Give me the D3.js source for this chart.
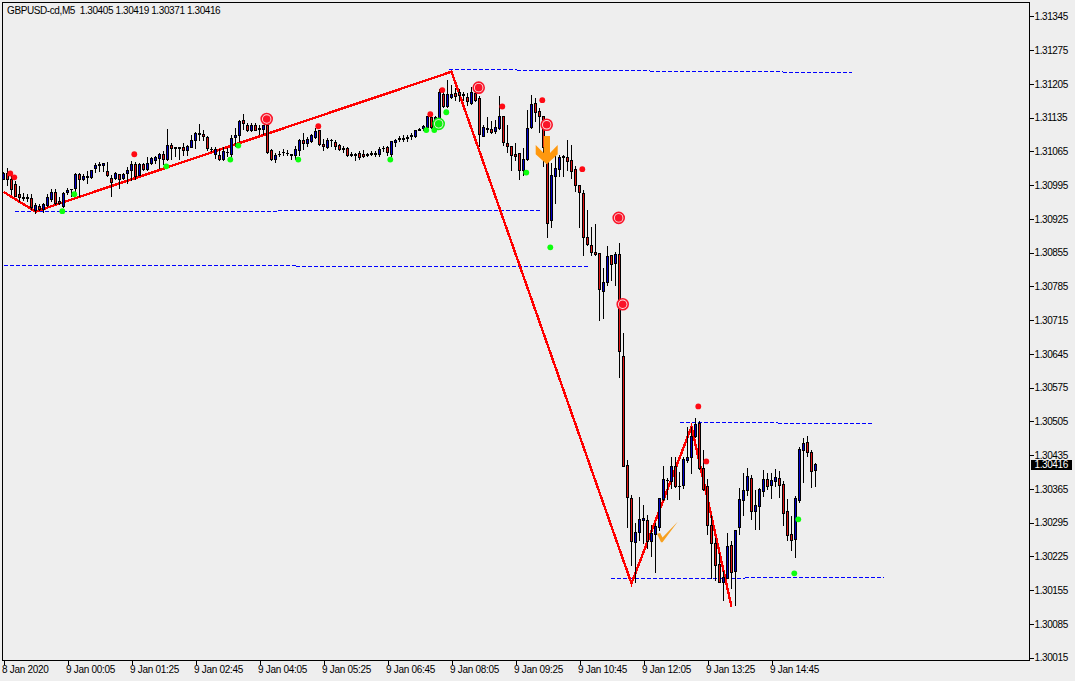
<!DOCTYPE html>
<html><head><meta charset="utf-8">
<script src="https://cdn.jsdelivr.net/npm/d3@7"></script>
<style>
html,body{margin:0;padding:0;background:#eeeeee;overflow:hidden}
svg{display:block}
text{font-family:"Liberation Sans",Arial,sans-serif;font-size:10px;fill:#000}
</style></head><body>
<svg id="c" width="1075" height="681"></svg>
<script>
// Prices are in points above 1.30000 (1 point = 0.00001)
const opens=[
1008,1020,1008,998,977,971,970,969,944,951,
945,953,966,981,962,951,980,986,989,1018,
1007,1012,1011,1030,1037,1036,1025,1010,1009,1017,
1010,1021,1027,1039,1016,1038,1029,1040,1047,1052,
1060,1049,1078,1072,1072,1074,1067,1074,1089,1101,
1101,1095,1070,1060,1058,1049,1063,1059,1094,1098,
1130,1120,1109,1120,1113,1111,1120,1067,1049,1059,
1063,1062,1059,1058,1068,1089,1082,1087,1095,1110,
1081,1074,1089,1085,1078,1069,1072,1060,1059,1062,
1060,1058,1060,1060,1060,1071,1074,1060,1084,1091,
1091,1092,1097,1096,1110,1113,1115,1136,1114,1131,
1183,1158,1178,1186,1188,1181,1178,1165,1185,1175,
1097,1112,1112,1107,1113,1139,1082,1076,1059,1061,
1027,1050,1116,1165,1148,1139,1075,922,1014,1028,
1053,1053,1047,1029,995,978,888,871,857,854,
776,794,850,833,852,640,414,346,255,275,
300,300,256,271,287,344,383,382,413,372,
374,425,432,474,501,408,371,290,252,209,
173,180,249,194,287,341,363,388,320,329,
360,386,374,382,388,375,319,271,262,343,
445,462,442,405];
const highs=[
1022,1031,1014,1003,994,978,976,976,957,955,
958,976,986,987,971,980,989,987,1020,1020,
1017,1024,1027,1041,1042,1041,1042,1015,1022,1019,
1020,1033,1045,1042,1040,1041,1053,1053,1055,1062,
1065,1111,1082,1074,1074,1082,1079,1098,1105,1122,
1110,1096,1074,1074,1069,1074,1072,1099,1114,1131,
1143,1123,1123,1124,1120,1120,1134,1070,1062,1065,
1069,1067,1060,1077,1091,1103,1095,1100,1114,1110,
1091,1092,1091,1089,1081,1077,1074,1063,1062,1065,
1067,1062,1066,1066,1074,1077,1077,1087,1091,1096,
1098,1098,1102,1110,1113,1120,1139,1146,1139,1194,
1193,1212,1203,1196,1194,1189,1186,1198,1189,1180,
1120,1137,1127,1129,1180,1139,1120,1076,1082,1061,
1072,1151,1182,1175,1155,1139,1085,1041,1065,1058,
1058,1089,1079,1034,995,985,944,909,915,854,
823,868,850,857,875,688,425,353,294,349,
332,311,291,295,346,413,387,431,432,401,
432,494,494,512,505,446,385,311,263,232,
194,273,256,280,366,398,408,394,362,366,
404,398,398,406,402,382,344,309,351,451,
471,475,446,419];
const lows=[
1007,996,976,972,962,965,962,945,938,943,
939,951,962,955,955,950,976,972,976,972,
1005,1000,1010,1023,1024,1024,1013,973,1008,988,
1007,1000,1005,1007,1015,1027,1027,1038,1041,1031,
1038,1048,1049,1055,1050,1058,1058,1074,1072,1088,
1089,1067,1065,1051,1047,1048,1055,1051,1076,1086,
1111,1107,1107,1109,1100,1100,1062,1047,1042,1056,
1058,1058,1049,1049,1058,1069,1077,1085,1093,1078,
1067,1072,1077,1069,1067,1063,1056,1056,1047,1050,
1053,1056,1058,1055,1056,1065,1058,1055,1076,1087,
1087,1087,1091,1095,1109,1110,1110,1114,1109,1127,
1157,1157,1176,1171,1169,1172,1162,1164,1170,1076,
1096,1106,1103,1103,1111,1079,1063,1027,1047,1008,
1016,1047,1113,1127,1106,1034,888,909,958,1013,
1014,1027,1009,982,909,850,871,850,850,716,
720,788,799,788,597,413,287,208,173,259,
253,242,225,192,279,342,344,367,369,344,
367,420,398,472,406,363,272,180,176,171,
134,180,159,125,272,311,353,303,282,282,
351,364,346,371,349,290,259,239,223,337,
380,434,369,371];
const closes=[
1020,1008,986,973,970,969,969,949,954,946,
956,970,981,958,958,979,984,987,1017,1008,
1014,1013,1027,1037,1039,1041,1015,1001,1021,1008,
1018,1027,1039,1014,1038,1029,1041,1051,1053,1060,
1049,1078,1072,1073,1073,1067,1076,1089,1103,1102,
1096,1071,1069,1069,1049,1065,1064,1092,1099,1128,
1123,1109,1120,1110,1112,1119,1063,1049,1058,1060,
1064,1062,1058,1069,1089,1082,1091,1098,1108,1080,
1076,1089,1088,1077,1070,1072,1058,1058,1058,1053,
1055,1059,1062,1062,1069,1072,1063,1086,1089,1092,
1093,1094,1099,1109,1111,1118,1138,1116,1136,1189,
1158,1183,1184,1180,1181,1183,1169,1187,1172,1100,
1115,1113,1105,1116,1139,1085,1077,1058,1056,1027,
1050,1113,1164,1147,1139,1075,917,1016,1030,1053,
1055,1045,1025,996,980,888,873,857,853,779,
794,847,831,852,650,413,348,258,275,302,
304,258,273,288,346,385,384,413,370,371,
427,431,475,500,408,364,291,252,208,173,
183,247,192,280,344,363,392,320,331,365,
386,372,384,389,374,316,270,260,346,448,
460,442,403,416];

const priceLabels=["1.31345","1.31275","1.31205","1.31135","1.31065","1.30995","1.30925","1.30855","1.30785","1.30715","1.30645","1.30575","1.30505","1.30435","1.30365","1.30295","1.30225","1.30155","1.30085","1.30015"];
const timeLabels=["8 Jan 2020","9 Jan 00:05","9 Jan 01:25","9 Jan 02:45","9 Jan 04:05","9 Jan 05:25","9 Jan 06:45","9 Jan 08:05","9 Jan 09:25","9 Jan 10:45","9 Jan 12:05","9 Jan 13:25","9 Jan 14:45"];
const titleText="GBPUSD-cd,M5";

const zigzagBars=[0,8,112,157,172,182];
const zigzagPrices=[981,940,1230,169,494,121];

// each level: [bar, price] vertices
const levelLines=[
 [[2.9,941],[68.6,941]],[[68.6,943],[134.1,943]],
 [[0,829],[73,829]],[[73,827],[146.1,827]],
 [[111.4,1236],[128.4,1236]],[[128.4,1234],[161.6,1234]],[[161.6,1232],[194.9,1232]],[[194.9,1229],[212.1,1229]],
 [[169.1,504],[193.6,504]],[[193.6,502],[217.6,502]],
 [[151.9,180],[185.4,180]],[[185.4,182],[220.1,182]]
];

const redDotBars=[2,3,33,79,107,110,125,135,145,174,176];
const redDotPrices=[1019,1011,1059,1117,1142,1192,1158,1171,1028,536,422];
const greenDotBars=[15,18,41,57,59,74,97,106,108,111,131,137,199,198];
const greenDotPrices=[941,976,1034,1048,1077,1048,1048,1109,1109,1146,1021,866,302,190];
const redTargetBars=[66,119,136,154,155];
const redTargetPrices=[1132,1197,1120,927,748];
const greenTargetBars=[109];
const greenTargetPrices=[1122];
const arrowBar=136, arrowPrice=1038;
const checkBar=164, checkPrice=255;

const svg=d3.select("#c");
const x=d3.scaleLinear().domain([0,1]).range([3.5,7.5]);
const y=d3.scaleLinear().domain([1345,15]).range([16.3,657.7]);
const toPts=s=>Math.round((parseFloat(s)-1.3)*1e5);
const fmt=v=>(1.3+v/1e5).toFixed(5);
const py=v=>Math.round(y(v));

// frame
svg.append("rect").attr("x",2.5).attr("y",2.5).attr("width",1027).attr("height",658)
  .attr("fill","#eeeeee").attr("stroke","#000").attr("stroke-width",1).attr("shape-rendering","crispEdges");

// level lines
const ln=d3.line().x(d=>x(d[0])).y(d=>py(d[1])+0.5);
svg.append("g").selectAll("path").data(levelLines).join("path")
  .attr("d",ln).attr("fill","none").attr("stroke","#0000ff").attr("stroke-width",1)
  .attr("stroke-dasharray","4 2").attr("shape-rendering","crispEdges");

// zigzag
const zz=d3.line().x(d=>x(d[0])).y(d=>y(d[1]));
svg.append("path").attr("d",zz(d3.zip(zigzagBars,zigzagPrices)))
  .attr("fill","none").attr("stroke","#ff0000").attr("stroke-width",2.4).attr("stroke-linejoin","miter")
  .attr("shape-rendering","crispEdges");

// candles
const bars=d3.range(opens.length);
const g=svg.append("g").attr("shape-rendering","crispEdges");
g.selectAll("line.w").data(bars).join("line").attr("class","w")
  .attr("x1",i=>x(i)).attr("x2",i=>x(i))
  .attr("y1",i=>py(highs[i])).attr("y2",i=>py(lows[i])+1)
  .attr("stroke","#000").attr("stroke-width",1);
const bodyTop=i=>py(Math.max(opens[i],closes[i]));
const bodyBot=i=>py(Math.min(opens[i],closes[i]));
g.selectAll("rect.b").data(bars).join("rect").attr("class","b")
  .attr("x",i=>x(i)-1.5).attr("width",3)
  .attr("y",bodyTop).attr("height",i=>Math.max(1,bodyBot(i)-bodyTop(i)+1)).attr("fill","#000");
g.selectAll("rect.f").data(bars.filter(i=>bodyBot(i)-bodyTop(i)>=2)).join("rect").attr("class","f")
  .attr("x",i=>x(i)-0.5).attr("width",1)
  .attr("y",i=>bodyTop(i)+1).attr("height",i=>bodyBot(i)-bodyTop(i)-1)
  .attr("fill",i=>closes[i]>=opens[i]?"#0000c8":"#e01414");

// dots
const dotX=i=>x(i)-1.2;
svg.append("g").selectAll("circle").data(d3.zip(redDotBars,redDotPrices)).join("circle")
  .attr("cx",d=>dotX(d[0])).attr("cy",d=>y(d[1])).attr("r",2.9).attr("fill","#ff0a14");
svg.append("g").selectAll("circle").data(d3.zip(greenDotBars,greenDotPrices)).join("circle")
  .attr("cx",d=>dotX(d[0])).attr("cy",d=>y(d[1])).attr("r",2.9).attr("fill","#0cff0c");

// targets
function targets(bs,ps,col){
  const data=d3.zip(bs,ps), t=svg.append("g");
  t.selectAll("circle.o").data(data).join("circle").attr("class","o")
    .attr("cx",d=>x(d[0])-0.8).attr("cy",d=>y(d[1])).attr("r",5.5)
    .attr("fill","#fbe8ea").attr("stroke",col).attr("stroke-width",1.6);
  t.selectAll("circle.i").data(data).join("circle").attr("class","i")
    .attr("cx",d=>x(d[0])-0.8).attr("cy",d=>y(d[1])).attr("r",3.8).attr("fill",col);
}
targets(redTargetBars,redTargetPrices,"#fa1428");
targets(greenTargetBars,greenTargetPrices,"#10f010");

// orange arrow
svg.append("path")
  .attr("transform",`translate(${x(arrowBar)-0.8},${y(arrowPrice)})`)
  .attr("d","M-3,-28.3 L3.3,-28.3 L3.3,-11.3 L11,-19.3 L11,-10 L0,0 L-11,-10 L-11,-19.3 L-3,-11.3 Z")
  .attr("fill","#ff980e");

// orange check
svg.append("path")
  .attr("transform",`translate(${x(checkBar)},${y(checkPrice)})`)
  .attr("d","M-2.5,-8.3 L0.7,-9 L3,-4.5 L18.2,-20.3 L3,0.3 L1.5,0.3 Z")
  .attr("fill","#f7a01e");

// axes
const yAxis=d3.axisRight(y).tickValues(priceLabels.map(toPts)).tickFormat(fmt).tickSize(4).tickPadding(1);
const ya=svg.append("g").attr("transform","translate(1030,0)").call(yAxis);
ya.select(".domain").remove();
ya.selectAll("line").attr("stroke","#000").attr("shape-rendering","crispEdges");
ya.selectAll("text").attr("dx",-0.5).style("letter-spacing","-0.4px");

const tickBars=timeLabels.map((_,k)=>k*16);
const xAxis=d3.axisBottom(x).tickValues(tickBars).tickFormat((d,k)=>timeLabels[k]).tickSize(4).tickPadding(1);
const xa=svg.append("g").attr("transform","translate(0,660.5)").call(xAxis);
xa.select(".domain").remove();
xa.selectAll("line").attr("stroke","#000").attr("shape-rendering","crispEdges");
xa.selectAll("text").attr("text-anchor","start").attr("dx",-2).style("letter-spacing","-0.3px");
xa.attr("font-family",null).attr("font-size",null);
ya.attr("font-family",null).attr("font-size",null);

// current price tag
const last=closes.length-1;
svg.append("rect").attr("x",1031).attr("width",41).attr("y",py(closes[last])-4).attr("height",10).attr("fill","#000");
svg.append("text").attr("x",1034.5).attr("y",py(closes[last])+4.2).text(fmt(closes[last]))
  .style("fill","#fff").style("letter-spacing","-0.4px");

// title
svg.append("text").attr("x",7).attr("y",13.5).style("white-space","pre").style("letter-spacing","-0.4px")
  .text(`${titleText}  ${fmt(opens[last])} ${fmt(highs[last])} ${fmt(lows[last])} ${fmt(closes[last])}`);
</script>
</body></html>
